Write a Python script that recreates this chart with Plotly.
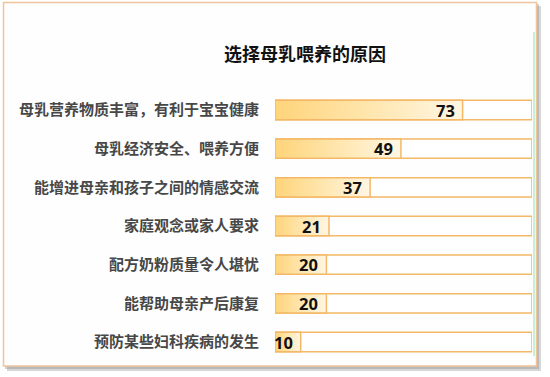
import plotly.graph_objects as go

title = "选择母乳喂养的原因"
categories = [
    "母乳营养物质丰富，有利于宝宝健康",
    "母乳经济安全、喂养方便",
    "能增进母亲和孩子之间的情感交流",
    "家庭观念或家人要求",
    "配方奶粉质量令人堪忧",
    "能帮助母亲产后康复",
    "预防某些妇科疾病的发生",
]
values = [73, 49, 37, 21, 20, 20, 10]
full_scale = 100

W, H = 550, 377
BAR_H = 0.25
ORANGE = "#f4b866"
fig = go.Figure()

for i, (cat, v) in enumerate(zip(categories, values)):
    # background (full-scale) bar
    fig.add_trace(go.Scatter(
        x=[0, full_scale, full_scale, 0, 0],
        y=[i - BAR_H, i - BAR_H, i + BAR_H, i + BAR_H, i - BAR_H],
        fill="toself", fillcolor="white", mode="lines",
        line=dict(color=ORANGE, width=1.5), hoverinfo="skip", showlegend=False,
    ))
for i, (cat, v) in enumerate(zip(categories, values)):
    fig.add_trace(go.Scatter(
        x=[0, v, v, 0, 0],
        y=[i - BAR_H, i - BAR_H, i + BAR_H, i + BAR_H, i - BAR_H],
        fill="toself", mode="lines",
        fillgradient=dict(type="horizontal",
                          colorscale=[[0, "#ffd47a"], [0.5, "#ffe6ae"], [1, "#fff6e4"]]),
        line=dict(color=ORANGE, width=1.5), name=cat, showlegend=False,
    ))
    fig.add_annotation(x=v, y=i, text=str(v), showarrow=False, xanchor="right",
                       xshift=-6, yshift=0,
                       font=dict(family="Noto Sans, DejaVu Sans", size=16.5, color="#111111",
                                 weight="bold"))

# frame shadow and border
fig.add_shape(type="rect", xref="paper", yref="paper",
              x0=7/W, x1=541/W, y0=1-371/H, y1=1-6/H,
              fillcolor="rgba(140,140,140,0.35)", line=dict(width=0), layer="below")
fig.add_shape(type="rect", xref="paper", yref="paper",
              x0=5/W, x1=539/W, y0=1-369/H, y1=1-4/H,
              fillcolor="rgba(140,140,140,0.4)", line=dict(width=0), layer="below")
fig.add_shape(type="rect", xref="paper", yref="paper",
              x0=3.5/W, x1=536.5/W, y0=1-366/H, y1=1-2.5/H,
              fillcolor="#fefefe", line=dict(color="#f0c49c", width=1.5), layer="below")
fig.add_shape(type="line", xref="paper", yref="paper",
              x0=534/W, x1=534/W, y0=1-32/H, y1=1-356/H,
              line=dict(color="#c8f0d4", width=2), layer="below")

fig.add_annotation(xref="paper", yref="paper", x=305/W, y=1-53/H, text=title,
                   showarrow=False, xanchor="center", yanchor="middle",
                   font=dict(family="Noto Sans CJK SC", size=18, color="#111111", weight="bold"))

row0, step = 110, 38.67
fig.update_layout(
    width=W, height=H,
    margin=dict(l=0, r=0, t=0, b=0),
    paper_bgcolor="white", plot_bgcolor="rgba(0,0,0,0)",
    xaxis=dict(domain=[275/W, 532/W], range=[0, full_scale], visible=False, fixedrange=True),
    yaxis=dict(domain=[0, 1], range=[(H - row0) / step, -row0 / step],
               tickvals=list(range(len(categories))), ticktext=categories,
               showgrid=False, zeroline=False, showline=False, ticks="",
               ticklabelstandoff=15,
               tickfont=dict(family="Noto Sans CJK SC", size=15, color="#474747", weight="bold")),
)

fig.write_html("out.html")
